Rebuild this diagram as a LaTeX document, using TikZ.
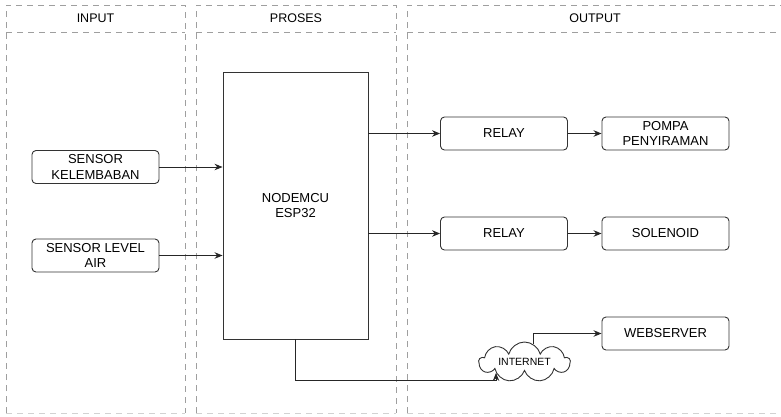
\documentclass[tikz,border=0pt]{standalone}
\usepackage{fontspec}
\setmainfont{Liberation Sans}
\usetikzlibrary{arrows.meta,shapes.symbols}
\begin{document}
\begin{tikzpicture}[x=1pt,y=-1pt,font=\fontsize{13}{15.5}\selectfont,text=black,
  lane/.style={draw=gray!75,dash pattern=on 6pt off 5pt,line width=0.8pt},
  blok/.style={draw=black!80,line width=0.9pt,rounded corners=4pt,align=center,minimum width=127pt,minimum height=33pt,inner sep=1pt},
  panah/.style={-{Stealth[length=8pt,width=6.5pt]},line width=0.9pt,draw=black!85}]
\useasboundingbox (0,0) rectangle (781,416);
% swimlanes
\foreach \lab/\xa/\xb/\xm in {INPUT/6/185/95.5,PROSES/196/396/296,OUTPUT/407/784/595}{
  \draw[lane] (\xa,413) -- (\xa,5) -- (\xb,5) -- (\xb,413);
  \draw[lane,draw=gray!35] (\xa,413) -- (\xb,413);
  \draw[lane] (\xa,32) -- (\xb,32);
  \node[font=\fontsize{12.5}{15}\selectfont] (h-\lab) at (\xm,18.5) {\lab};}
% blocks
\node[blok] (sensor1) at (95.5,167) {SENSOR\\KELEMBABAN};
\node[blok] (sensor2) at (95.5,255.5) {SENSOR LEVEL\\AIR};
\node[draw=black!80,line width=0.9pt,minimum width=145pt,minimum height=267pt,align=center] (mcu) at (295.5,205.5) {NODEMCU\\ESP32};
\node[blok] (relay1) at (504,133.5) {RELAY};
\node[blok] (pompa) at (665.5,133.5) {POMPA\\PENYIRAMAN};
\node[blok] (relay2) at (504,233.5) {RELAY};
\node[blok] (solenoid) at (665.5,233.5) {SOLENOID};
\node[blok] (web) at (665.5,333.5) {WEBSERVER};
\node[cloud,cloud puffs=9,cloud ignores aspect,draw=black!80,line width=0.9pt,minimum width=91pt,minimum height=40pt,inner sep=0pt,font=\fontsize{10.5}{12}\selectfont] (internet) at (524.5,362) {INTERNET};
% connectors
\draw[panah] (sensor1.east) -- (sensor1.east -| mcu.west);
\draw[panah] (sensor2.east) -- (sensor2.east -| mcu.west);
\draw[panah] (relay1.west -| mcu.east) -- (relay1.west);
\draw[panah] (relay2.west -| mcu.east) -- (relay2.west);
\draw[panah] (relay1.east) -- (pompa.west);
\draw[panah] (relay2.east) -- (solenoid.west);
\draw[panah] (mcu.south) |- ([yshift=-8pt]internet.201) -- (internet.201);
\draw[panah] (internet.65) |- (web.west);
\end{tikzpicture}
\end{document}
